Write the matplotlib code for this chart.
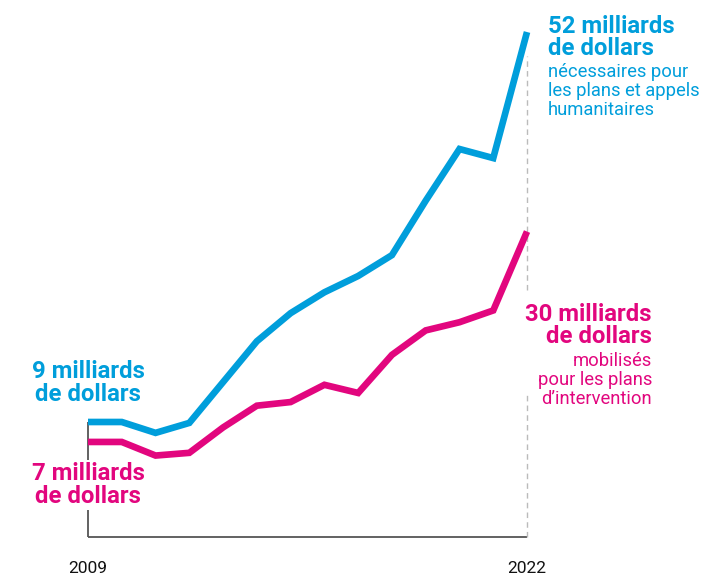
import matplotlib
matplotlib.use("Agg")
import matplotlib.pyplot as plt

plt.rcParams['font.family'] = ['Roboto', 'DejaVu Sans']

years = list(range(2009, 2023))
required = [9.0, 9.0, 7.8, 8.9, 13.4, 17.9, 21.0, 23.3, 25.1, 27.4, 33.4, 39.1, 38.1, 52.0]
funded = [6.8, 6.8, 5.3, 5.6, 8.4, 10.8, 11.2, 13.1, 12.2, 16.4, 19.1, 20.0, 21.3, 30.0]
tick_labels = ["2009", "2022"]

BLUE = "#009EDB"
PINK = "#E2067E"

fig = plt.figure(figsize=(7.06, 5.75), dpi=100)
ax = fig.add_axes([0, 0, 1, 1])
ax.set_xlim(2006.394, 2027.30)
ax.set_ylim(-7.87, 55.53)
ax.axis("off")

base = -3.68
# axes lines
ax.plot([years[0], years[0]], [base, required[0]], color="#555555", lw=1.3, zorder=1, solid_capstyle="butt")
ax.plot([years[0], years[-1]], [base, base], color="#555555", lw=1.3, zorder=1, solid_capstyle="butt")
# dashed guide at final year, interrupted behind the pink label
for lo, hi in [(base, 12.2), (23.6, 49.4)]:
    ax.plot([years[-1], years[-1]], [lo, hi], color="#BBBBBB", lw=1.0,
            linestyle=(0, (4, 3)), zorder=1)

ax.plot(years, required, color=BLUE, lw=4.8, solid_capstyle="butt", solid_joinstyle="miter", zorder=3)
ax.plot(years, funded, color=PINK, lw=4.8, solid_capstyle="butt", solid_joinstyle="miter", zorder=3)

bold = dict(fontsize=17.2, fontweight="bold", linespacing=0.96)
small = dict(fontsize=13.2, linespacing=1.07)
white = dict(boxstyle="square,pad=0.1", fc="white", ec="none")

ax.text(2009, 13.3, "9 milliards\nde dollars", color=BLUE, ha="center", va="center", zorder=4, **bold)
ax.text(2009, 2.05, "7 milliards\nde dollars", color=PINK, ha="center", va="center", zorder=4,
        bbox=white, **bold)

ax.text(2022.62, 53.9, "52 milliards\nde dollars", color=BLUE, ha="left", va="top", zorder=4, **bold)
ax.text(2022.62, 48.6, "nécessaires pour\nles plans et appels\nhumanitaires", color=BLUE,
        ha="left", va="top", zorder=4, **small)

ax.text(2025.70, 22.1, "30 milliards\nde dollars", color=PINK, ha="right", va="top", zorder=4,
        bbox=white, **bold)
ax.text(2025.70, 16.7, "mobilisés\npour les plans\nd’intervention", color=PINK,
        ha="right", va="top", zorder=4, bbox=white, **small)

ax.text(years[0], -7.65, tick_labels[0], ha="center", va="baseline", fontsize=12.5, color="#111111")
ax.text(years[-1], -7.65, tick_labels[1], ha="center", va="baseline", fontsize=12.5, color="#111111")

fig.savefig("out.png", dpi=100)
